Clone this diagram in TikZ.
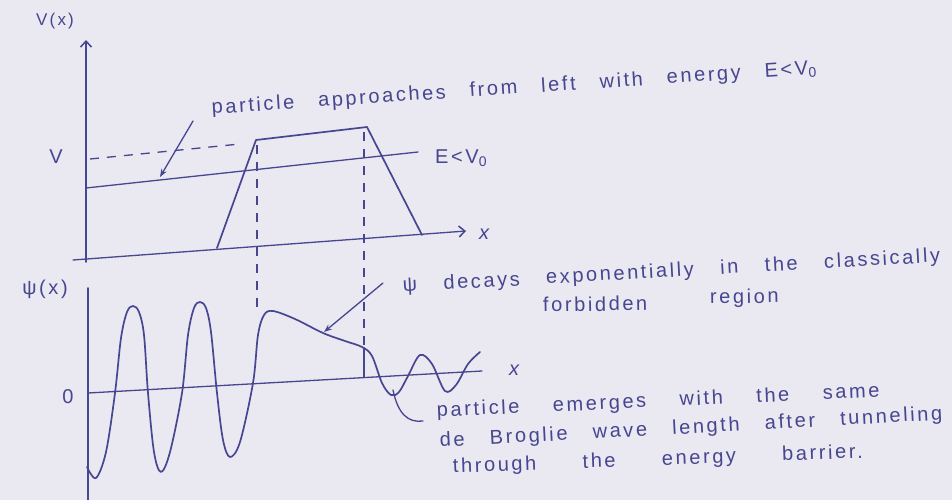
\documentclass[tikz,border=0pt]{standalone}
\usepackage{fontspec}
\setmainfont{Liberation Sans}
\usetikzlibrary{arrows.meta}
\definecolor{ink}{RGB}{70,70,145}
\definecolor{paper}{RGB}{234,232,240}
\newfontfamily\hand[LetterSpace=13]{Liberation Sans}
\newcommand{\hw}[2]{\makebox[#1][s]{#2}}
\tikzset{
  ink line/.style={draw=ink, line width=1.7pt, line cap=round, line join=round},
  thin ink/.style={draw=ink, line width=1.3pt, line cap=round},
  dash ink/.style={draw=ink, line width=1.3pt, dash pattern=on 9pt off 8pt},
  txt/.style={text=ink, inner sep=0pt, font=\hand\fontsize{20}{22}\selectfont},
  note/.style={txt, anchor=base west},
  barb/.style={-{Straight Barb[length=6pt,width=11pt,line width=1.5pt]}},
  pointer/.style={-{Stealth[length=8pt,width=6pt]}},
}
\begin{document}
\begin{tikzpicture}[x=1pt,y=-1pt]
\fill[paper] (0,0) rectangle (952,500);
\useasboundingbox (0,0) rectangle (952,500);

% ---------- top plot: potential ----------
\coordinate (vbot) at (86,262);
\coordinate (vtop) at (86,40);
\draw[ink line, barb] (vbot) -- (vtop);
\coordinate (xl) at (73,260);
\coordinate (xr) at (466,231);
\draw[thin ink, barb] (xl) -- (xr);
% barrier
\coordinate (b1) at (217,248);
\coordinate (b2) at (256,140);
\coordinate (b3) at (367,127);
\coordinate (b4) at (422,235);
\draw[ink line] (b1) -- (b2) -- (b3) -- (b4);
% energy line
\coordinate (e1) at (86,188);
\coordinate (e2) at (418,152);
\draw[thin ink] (e1) -- (e2);
% V dashed level
\coordinate (v1) at (90,159);
\coordinate (v2) at (240,144);
\draw[dash ink] (v1) -- (v2);
% vertical dashed guides
\coordinate (g1t) at (257,145);
\coordinate (g1b) at (257,308);
\coordinate (g2t) at (364,132);
\coordinate (g2m) at (364,348);
\coordinate (g2b) at (364,377);
\draw[dash ink] (g1t) -- (g1b);
\draw[dash ink] (g2t) -- (g2m);
\draw[thin ink] (g2m) -- (g2b);

\node[txt, font=\hand\fontsize{17}{19}\selectfont] (Vx) at (55,21) {V(x)};
\node[txt] (Vlab) at (56,157) {V};
\node[txt, font=\hand\itshape\fontsize{20}{22}\selectfont] (xtop) at (484,234) {x};
\node[note] (Elab) at (435,163) {\hw{64pt}{E<V\textsubscript{0}}};

% annotation 1
\node[note, rotate=3.8] (n1) at (212,114) {\hw{606pt}{particle approaches from left with energy E<V\textsubscript{0}}};
\coordinate (a1s) at (193,121);
\coordinate (a1e) at (160,177);
\draw[thin ink, pointer] (a1s) -- (a1e);

% ---------- bottom plot: wave function ----------
\coordinate (pbot) at (88,500);
\coordinate (ptop) at (88,288);
\draw[ink line] (pbot) -- (ptop);
\coordinate (zl) at (88,393);
\coordinate (zr) at (482,371);
\draw[thin ink] (zl) -- (zr);
\node[txt] (psix) at (45,289) {ψ(x)};
\node[txt] (zero) at (68,397) {0};
\node[txt, font=\hand\itshape\fontsize{20}{22}\selectfont] (xbot) at (514,370) {x};

\draw[ink line] plot[smooth, tension=0.55] coordinates {
 (87,467) (96,478) (106,452) (115,393) (121,338) (127,312) (133,306) (139,312) (144,335) (148,393) (154,452) (161,472)
 (170,452) (182,393) (188,335) (194,308) (200,302) (206,308) (211,332) (217,393) (223,440) (230,457) (240,442) (253,383)
 (258,335) (264,315) (273,311) (295,319) (323,333) (345,341) (362,347) (372,356) (382,383) (391,395)
 (399,392) (408,376) (420,355) (432,364) (445,391) (456,385) (468,364) (480,352)};

% annotation 2
\node[note, rotate=3.2] (n2) at (403,292) {\hw{538pt}{ψ decays exponentially in the classically}};
\node[note, rotate=1] (n2b) at (543,312) {\hw{124pt}{forbidden}};
\node[note, rotate=1] (n2c) at (710,304) {\hw{80pt}{region}};
\coordinate (a2s) at (383,283);
\coordinate (a2e) at (324,332);
\draw[thin ink, pointer] (a2s) -- (a2e);

% annotation 3
\node[note, rotate=2.6] (n3) at (437,417) {\hw{443pt}{particle emerges with the same}};
\node[note, rotate=3.1] (n3b) at (440,447) {\hw{503pt}{de Broglie wave length after tunneling}};
\node[note, rotate=2.1] (n3c) at (453,473) {\hw{410pt}{through the energy barrier.}};
\coordinate (h1) at (393,390);
\coordinate (h2) at (423,421);
\draw[thin ink] (h1) .. controls (398,414) and (408,423) .. (h2);
\end{tikzpicture}
\end{document}
